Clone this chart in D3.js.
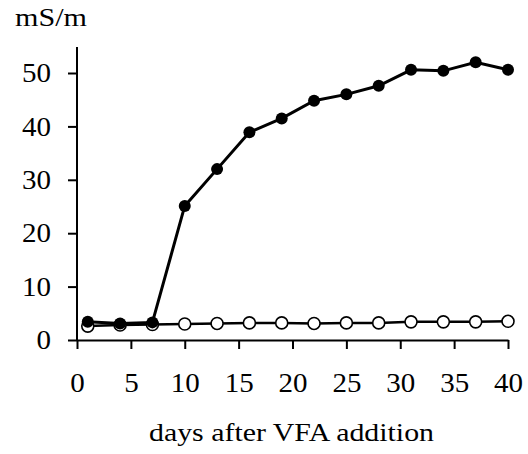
<!DOCTYPE html>
<html>
<head>
<meta charset="utf-8">
<script src="https://cdn.jsdelivr.net/npm/d3@7"></script>
<style>
  body { margin: 0; background: #fff; }
</style>
</head>
<body>
<svg id="chart"></svg>
<script>
//days after VFA addition
var days = [1, 4, 7, 10, 13, 16, 19, 22, 25, 28, 31, 34, 37, 40];
//filled series (with VFA)
var withVFA = [3.4, 3.1, 3.3, 25.1, 32.0, 38.9, 41.5, 44.8, 46.0, 47.6, 50.6, 50.4, 52.0, 50.6];
//open series (control)
var control = [2.6, 2.8, 2.9, 3.0, 3.1, 3.2, 3.2, 3.1, 3.2, 3.2, 3.4, 3.4, 3.4, 3.5];
var xTicks = [0, 5, 10, 15, 20, 25, 30, 35, 40];
var yTicks = [0, 10, 20, 30, 40, 50];

var serif = '"Liberation Serif", "Times New Roman", serif';

function conductivityChart() {
    var svg = d3.select('#chart')
        .attr('width', 528)
        .attr('height', 454);

    var margin = {top: 47, right: 20, bottom: 114, left: 77},
        width = 528 - margin.left - margin.right,
        height = 454 - margin.top - margin.bottom;

    var canvas = svg.append('g')
        .attr('transform', 'translate(' + margin.left + ',' + margin.top + ')');

    var x = d3.scaleLinear().domain([0, 40]).range([0, 431]);
    var y = d3.scaleLinear().domain([0, 50]).range([height, height - 267]);

    //axes
    var xAxis = canvas.append('g')
        .attr('transform', 'translate(0,' + height + ')')
        .call(d3.axisBottom(x).tickValues(xTicks).tickSize(9).tickSizeOuter(0).tickPadding(24));
    var yAxis = canvas.append('g')
        .call(d3.axisLeft(y).tickValues(yTicks).tickSize(9).tickSizeOuter(0).tickPadding(17));

    [xAxis, yAxis].forEach(function(a) {
        a.attr('font-family', serif).attr('font-size', 27);
        a.select('.domain').attr('stroke', '#000').attr('stroke-width', 2);
        a.selectAll('.tick line').attr('stroke', '#000').attr('stroke-width', 2);
        //digits in the original are drawn a bit wider than the font
        a.selectAll('.tick text')
            .attr('fill', '#000')
            .attr('textLength', function() { return this.textContent.length * 14.5; })
            .attr('lengthAdjust', 'spacingAndGlyphs');
    });
    //extend y axis line to the top
    yAxis.select('.domain').attr('d', 'M0,' + height + 'V0');

    //series
    var line = d3.line()
        .x(function(d) { return x(d[0]); })
        .y(function(d) { return y(d[1]); });

    var ctrl = d3.zip(days, control);
    var vfa = d3.zip(days, withVFA);

    canvas.append('path').datum(ctrl)
        .attr('fill', 'none').attr('stroke', '#000').attr('stroke-width', 2.5)
        .attr('d', line);
    canvas.selectAll('.open').data(ctrl).enter().append('circle')
        .attr('class', 'open')
        .attr('cx', function(d) { return x(d[0]); })
        .attr('cy', function(d) { return y(d[1]); })
        .attr('r', 6)
        .attr('fill', '#fff').attr('stroke', '#000').attr('stroke-width', 1.6);

    canvas.append('path').datum(vfa)
        .attr('fill', 'none').attr('stroke', '#000').attr('stroke-width', 3)
        .attr('d', line);
    canvas.selectAll('.filled').data(vfa).enter().append('circle')
        .attr('class', 'filled')
        .attr('cx', function(d) { return x(d[0]); })
        .attr('cy', function(d) { return y(d[1]); })
        .attr('r', 6)
        .attr('fill', '#000');

    //labels
    svg.append('text')
        .attr('x', 15).attr('y', 26)
        .attr('font-family', serif)
        .attr('font-size', 26)
        .attr('textLength', 72).attr('lengthAdjust', 'spacingAndGlyphs')
        .text('mS/m');
    svg.append('text')
        .attr('x', 149).attr('y', 441)
        .attr('font-family', serif)
        .attr('font-size', 26)
        .attr('textLength', 285).attr('lengthAdjust', 'spacingAndGlyphs')
        .text('days after VFA addition');
}

conductivityChart();
</script>
</body>
</html>
